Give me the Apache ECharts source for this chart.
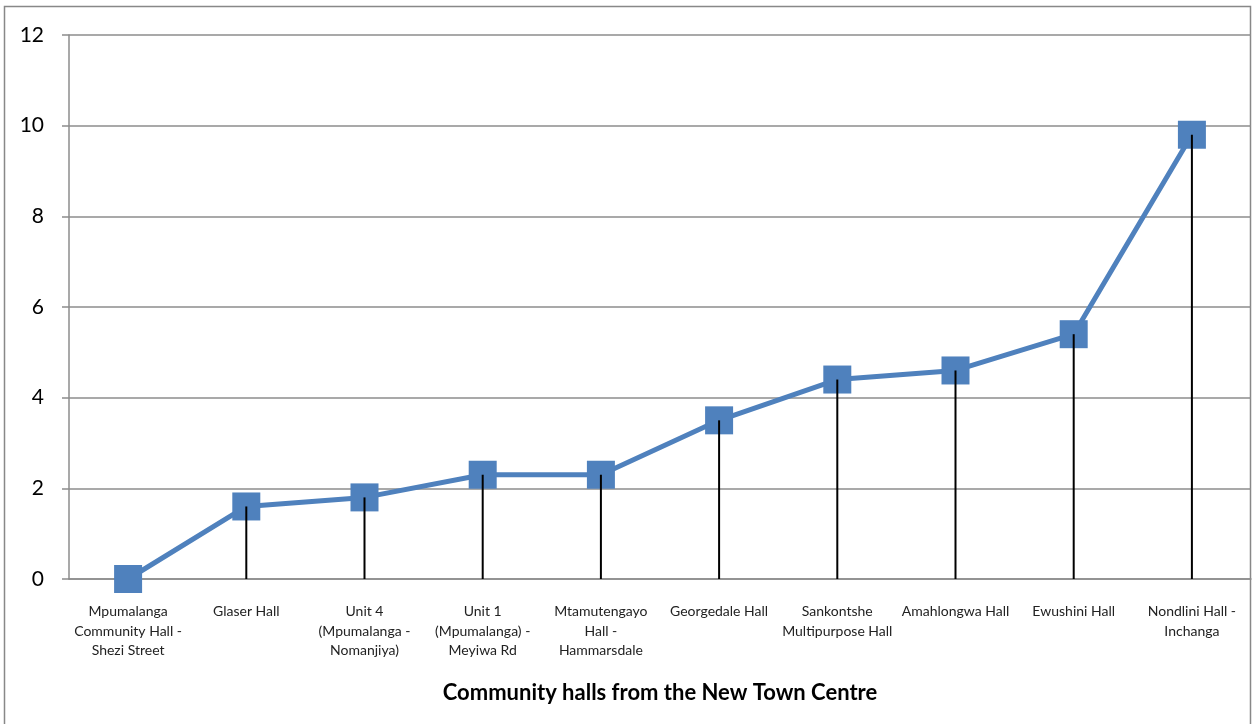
<!DOCTYPE html>
<html>
<head>
    <meta charset="UTF-8">
    <title>Community halls</title>
    <style>
        html, body { margin: 0; padding: 0; background: #fff; }
        #chart { width: 1252px; height: 724px; }
    </style>
    <script src="https://cdn.jsdelivr.net/npm/echarts@6/dist/echarts.min.js"></script>
</head>
<body>
    <div id="chart"></div>
    <script>
        // category names (line breaks as in the original)
        var halls = [
            'Mpumalanga\nCommunity Hall -\nShezi Street',
            'Glaser Hall',
            'Unit 4\n(Mpumalanga -\nNomanjiya)',
            'Unit 1\n(Mpumalanga) -\nMeyiwa Rd',
            'Mtamutengayo\nHall -\nHammarsdale',
            'Georgedale Hall',
            'Sankontshe\nMultipurpose Hall',
            'Amahlongwa Hall',
            'Ewushini Hall',
            'Nondlini Hall -\nInchanga'
        ];
        var distances = [0, 1.6, 1.8, 2.3, 2.3, 3.5, 4.4, 4.6, 5.4, 9.8];
        var axisTitle = 'Community halls from the New Town Centre';

        var font = 'Lato, "Open Sans", sans-serif';
        var chart = echarts.init(document.getElementById('chart'));

        var option = {
            animation: false,
            textStyle: { fontFamily: font },
            graphic: [{
                type: 'rect',
                shape: { x: 4.5, y: 6.5, width: 1246, height: 740 },
                style: { fill: 'none', stroke: '#888', lineWidth: 1.5 },
                silent: true
            }],
            grid: { left: 69, right: 1, top: 35, bottom: 145 },
            xAxis: {
                type: 'category',
                data: halls,
                boundaryGap: true,
                axisLine: { lineStyle: { color: '#8c8c8c', width: 1.5 } },
                axisTick: { show: false },
                axisLabel: {
                    color: '#222',
                    fontSize: 14,
                    lineHeight: 19.5,
                    margin: 23,
                    interval: 0,
                    align: 'center'
                },
                name: axisTitle,
                nameLocation: 'middle',
                nameGap: 103,
                nameTextStyle: { fontSize: 22, fontWeight: 'bold', color: '#000' }
            },
            yAxis: {
                type: 'value',
                min: 0,
                max: 12,
                interval: 2,
                axisLine: { show: true, lineStyle: { color: '#8c8c8c', width: 1.5 } },
                axisTick: { show: true, length: 7, lineStyle: { color: '#8c8c8c', width: 1.5 } },
                axisLabel: { fontSize: 21, color: '#000', margin: 25 },
                splitLine: { lineStyle: { color: '#8c8c8c', width: 1.5 } }
            },
            series: [
                {
                    name: 'distance',
                    type: 'line',
                    data: distances,
                    clip: false,
                    symbol: 'rect',
                    symbolSize: 28,
                    lineStyle: { color: '#4f81bd', width: 5 },
                    itemStyle: { color: '#4f81bd' },
                    z: 2
                },
                {
                    // drop lines from each point to the axis
                    name: 'drop',
                    type: 'bar',
                    data: distances,
                    barWidth: 2,
                    itemStyle: { color: '#000' },
                    z: 3
                }
            ]
        };
        chart.setOption(option);
    </script>
</body>
</html>
